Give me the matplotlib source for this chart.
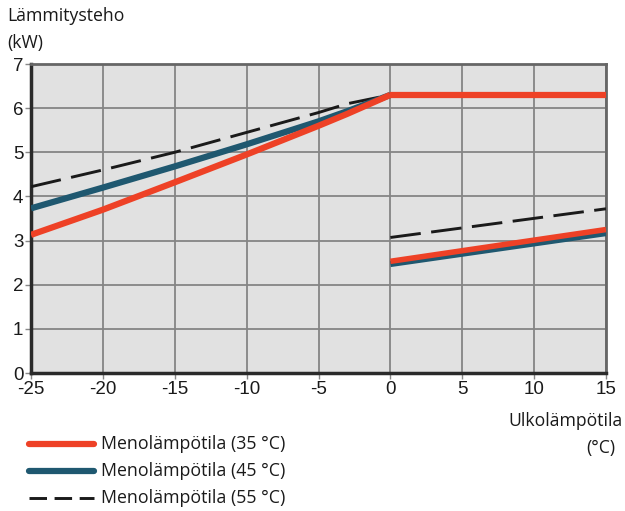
import matplotlib
matplotlib.use("Agg")
import matplotlib.pyplot as plt
from matplotlib.lines import Line2D

plt.rcParams["axes.unicode_minus"] = False

# Data
x_left = [-25, -20, -15, -10, -5, -3, 0]
x_right = [0, 15]
x_flat = [0, 15]

t35_left = [3.13, 3.70, 4.32, 4.95, 5.60, 5.87, 6.30]
t35_flat = [6.30, 6.30]
t35_right = [2.53, 3.25]

t45_left = [3.73, 4.20, 4.68, 5.18, 5.70, 5.93, 6.30]
t45_right = [2.47, 3.17]

t55_left = [4.22, 4.60, 5.00, 5.45, 5.90, 6.10, 6.30]
t55_right = [3.07, 3.72]

labels = ["Menolämpötila (35 °C)", "Menolämpötila (45 °C)", "Menolämpötila (55 °C)"]
xticks = [-25, -20, -15, -10, -5, 0, 5, 10, 15]
yticks = [0, 1, 2, 3, 4, 5, 6, 7]

RED = "#ee4126"
BLUE = "#1f5870"
BLACK = "#1a1a1a"
DASH = (10.5, 3.6)
DASH_LEG = (6.0, 2.6)

W, H = 625, 511
fig = plt.figure(figsize=(6.25, 5.11), dpi=100)
ax = fig.add_axes([31/W, 1-373/H, 575/W, 309/H])
ax.set_facecolor("#e1e1e1")
ax.set_xlim(-25, 15)
ax.set_ylim(0, 7)
ax.set_xticks(xticks)
ax.set_yticks(yticks)
ax.grid(True, color="#858585", lw=1.3)
ax.set_axisbelow(True)

ax.plot(x_left, t55_left, color=BLACK, lw=2.1, dashes=DASH, zorder=3)
ax.plot(x_left, t45_left, color=BLUE, lw=4.5, solid_capstyle="butt", zorder=4)
ax.plot(x_left, t35_left, color=RED, lw=4.5, solid_capstyle="butt", zorder=5)
ax.plot(x_flat, t35_flat, color=RED, lw=4.5, solid_capstyle="butt", zorder=5)
ax.plot(x_right, t55_right, color=BLACK, lw=2.1, dashes=DASH, zorder=3)
ax.plot(x_right, t45_right, color=BLUE, lw=4.5, solid_capstyle="butt", zorder=4)
ax.plot(x_right, t35_right, color=RED, lw=4.0, solid_capstyle="butt", zorder=5)

for s in ["top", "right"]:
    ax.spines[s].set_color("#666666")
    ax.spines[s].set_linewidth(2)
for s in ["left", "bottom"]:
    ax.spines[s].set_color("#2a2a2a")
    ax.spines[s].set_linewidth(2.5)

ax.tick_params(axis="both", length=4, width=1, color="#888888", labelsize=13.5,
               labelcolor="#1a1a1a")
ax.tick_params(axis="y", pad=1.5)
ax.tick_params(axis="x", pad=2)
for lab in ax.get_xticklabels() + ax.get_yticklabels():
    lab.set_fontfamily("Liberation Sans")

tf = dict(fontfamily="Open Sans", fontsize=12.7, color="#1a1a1a")
fig.text(7/W, 1-16/H, "Lämmitysteho", ha="left", va="center", **tf)
fig.text(7/W, 1-43/H, "(kW)", ha="left", va="center", **tf)
fig.text(623/W, 1-421/H, "Ulkolämpötila", ha="right", va="center", **tf)
fig.text(615/W, 1-448/H, "(°C)", ha="right", va="center", **tf)

# Legend (manual)
styles = [
    dict(color=RED, lw=4.5, solid_capstyle="round"),
    dict(color=BLUE, lw=4.5, solid_capstyle="round"),
    dict(color=BLACK, lw=2.1, dashes=DASH_LEG),
]
rows = [444, 471, 498]
for lab, st, yy in zip(labels, styles, rows):
    fig.add_artist(Line2D([29/W, 94/W], [1-yy/H, 1-yy/H], transform=fig.transFigure, **st))
    fig.text(101/W, 1-yy/H, lab, ha="left", va="center", fontfamily="Open Sans",
             fontsize=12.8, color="#1a1a1a")

fig.savefig("out.png", dpi=100)
